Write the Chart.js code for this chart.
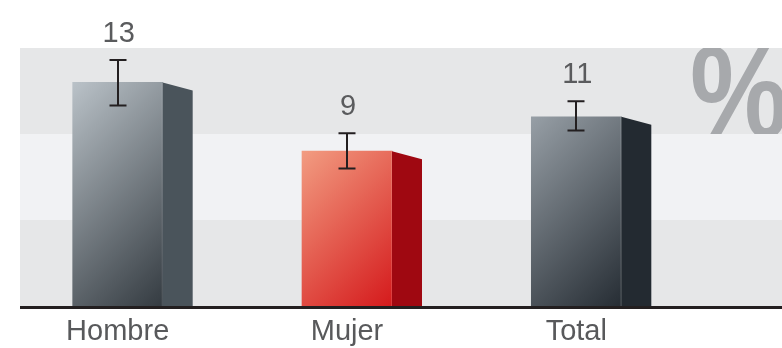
<!DOCTYPE html>
<html>
<head>
<meta charset="utf-8">
<script src="https://cdn.jsdelivr.net/npm/chart.js@4"></script>
<style>
  html, body { margin: 0; padding: 0; background: #ffffff; }
  #wrap { width: 782px; height: 348px; }
</style>
</head>
<body>
<div id="wrap"><canvas id="chart" width="782" height="348"></canvas></div>
<script>
// Share by sex, with confidence intervals
const categories = ['Hombre', 'Mujer', 'Total'];
const values = [13, 9, 11];
const errLow = [11.65, 8.0, 10.2];
const errHigh = [14.3, 10.05, 11.9];
const valueLabels = ['13', '9', '11'];
const bandTicks = [0, 5, 10, 15];

// front face: light top-left to dark bottom-right, plus a flat side face
const palettes = [
  { light: '#bac2c8', dark: '#343b41', side: '#4a545b' },
  { light: '#f29c81', dark: '#d51a1c', side: '#9f0811' },
  { light: '#979fa6', dark: '#262d34', side: '#232a31' }
];
const bandColors = ['#e6e7e8', '#f1f2f4', '#e6e7e8'];
const DEPTH_X = 30, DEPTH_Y = 8;
const FONT = '"Liberation Sans", Arial, Helvetica, sans-serif';

function frontFill(ctx) {
  const chart = ctx.chart;
  const i = ctx.dataIndex;
  const pal = palettes[i];
  const xs = chart.scales.x, ys = chart.scales.y;
  if (!xs || !ys || !chart.chartArea) return pal.light;
  const half = 45;
  const left = xs.getPixelForValue(i) - half;
  const top = ys.getPixelForValue(values[i]);
  const bot = ys.getPixelForValue(0);
  const d = (2 * half + (bot - top)) / 2;
  const g = chart.ctx.createLinearGradient(left, top, left + d, top + d);
  g.addColorStop(0, pal.light);
  g.addColorStop(1, pal.dark);
  return g;
}

const backdrop = {
  id: 'backdrop',
  beforeDraw(chart) {
    const { ctx, chartArea: a, scales: { y } } = chart;
    ctx.save();
    for (let k = 0; k < bandTicks.length - 1; k++) {
      const yb = y.getPixelForValue(bandTicks[k]);
      const yt = y.getPixelForValue(bandTicks[k + 1]);
      ctx.fillStyle = bandColors[k];
      ctx.fillRect(a.left, yt, a.right - a.left, yb - yt);
    }
    // large percent mark, kept inside the top band
    const yt = y.getPixelForValue(bandTicks[3]);
    const yb = y.getPixelForValue(bandTicks[2]);
    ctx.beginPath();
    ctx.rect(a.left, yt, a.right - a.left, yb - yt);
    ctx.clip();
    ctx.translate(a.right - 92, yb + 3);
    ctx.scale(0.85, 1);
    ctx.fillStyle = '#a7a9ac';
    ctx.font = 'bold 130px ' + FONT;
    ctx.textBaseline = 'alphabetic';
    ctx.textAlign = 'left';
    ctx.fillText('%', 0, 0);
    ctx.restore();
  }
};

const decorations = {
  id: 'decorations',
  afterDatasetsDraw(chart) {
    const { ctx, chartArea: a, scales: { y } } = chart;
    const meta = chart.getDatasetMeta(0);
    ctx.save();
    meta.data.forEach((bar, i) => {
      const right = bar.x + bar.width / 2;
      const top = bar.y, base = bar.base;
      // side face
      ctx.fillStyle = palettes[i].side;
      ctx.beginPath();
      ctx.moveTo(right, top);
      ctx.lineTo(right + DEPTH_X, top + DEPTH_Y);
      ctx.lineTo(right + DEPTH_X, base);
      ctx.lineTo(right, base);
      ctx.closePath();
      ctx.fill();
      // soft edge between faces
      ctx.fillStyle = 'rgba(255,255,255,0.14)';
      ctx.fillRect(right - 1, top, 1, base - top);
    });
    // baseline
    ctx.fillStyle = '#231f20';
    ctx.fillRect(a.left, a.bottom, a.right - a.left, 3);
    // error bars
    ctx.strokeStyle = '#231f20';
    ctx.lineWidth = 2;
    meta.data.forEach((bar, i) => {
      const cx = Math.round(bar.x);
      const hi = y.getPixelForValue(errHigh[i]);
      const lo = y.getPixelForValue(errLow[i]);
      ctx.beginPath();
      ctx.moveTo(cx, hi); ctx.lineTo(cx, lo);
      ctx.moveTo(cx - 8.5, hi); ctx.lineTo(cx + 8.5, hi);
      ctx.moveTo(cx - 8.5, lo); ctx.lineTo(cx + 8.5, lo);
      ctx.stroke();
    });
    // value labels
    ctx.fillStyle = '#5a5b5d';
    ctx.font = '29px ' + FONT;
    ctx.textAlign = 'center';
    ctx.textBaseline = 'middle';
    meta.data.forEach((bar, i) => {
      const hi = y.getPixelForValue(errHigh[i]);
      ctx.fillText(valueLabels[i], bar.x + 1, hi - 26);
    });
    ctx.restore();
  }
};

new Chart(document.getElementById('chart'), {
  type: 'bar',
  data: {
    datasets: [{
      data: values.map((v, i) => ({ x: i, y: v })),
      backgroundColor: frontFill,
      borderWidth: 0,
      barThickness: 90
    }]
  },
  options: {
    responsive: false,
    animation: false,
    devicePixelRatio: 1,
    layout: { padding: { left: 20, right: 0, top: 48, bottom: 0 } },
    plugins: { legend: { display: false }, tooltip: { enabled: false } },
    scales: {
      x: {
        type: 'linear',
        offset: false,
        min: -0.426,
        max: 2.897,
        grid: { display: false, drawTicks: false },
        border: { display: false },
        afterBuildTicks: axis => { axis.ticks = categories.map((_, i) => ({ value: i })); },
        afterFit: axis => { axis.height = 42; },
        ticks: {
          padding: 9,
          color: '#58595b',
          font: { family: FONT, size: 29 },
          maxRotation: 0,
          autoSkip: false,
          callback: v => categories[v]
        }
      },
      y: {
        display: false,
        min: 0,
        max: 15
      }
    }
  },
  plugins: [backdrop, decorations]
});
</script>
</body>
</html>
